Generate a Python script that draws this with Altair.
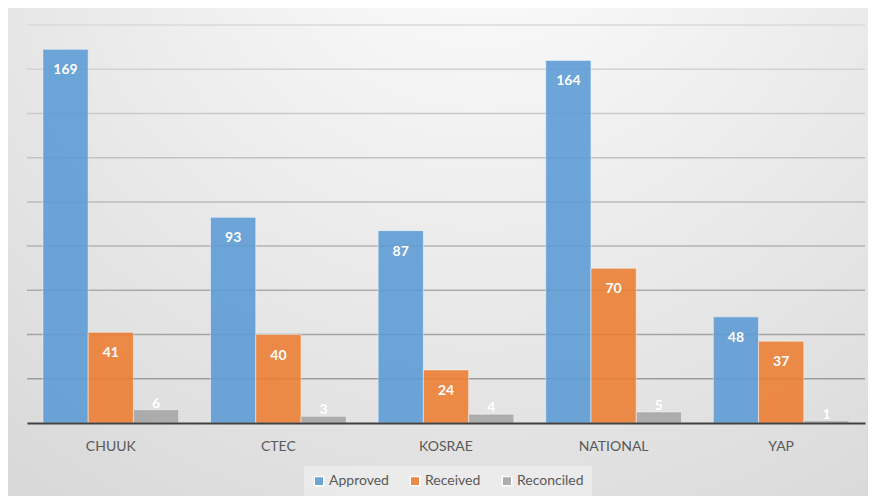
import altair as alt
import pandas as pd

categories = ["CHUUK", "CTEC", "KOSRAE", "NATIONAL", "YAP"]
series = ["Approved", "Received", "Reconciled"]
approved = [169, 93, 87, 164, 48]
received = [41, 40, 24, 70, 37]
reconciled = [6, 3, 4, 5, 1]
grid_ticks = [20, 40, 60, 80, 100, 120, 140, 160, 180]

rows = []
for name, vals in zip(series, [approved, received, reconciled]):
    for c, v in zip(categories, vals):
        rows.append({"category": c, "series": name, "value": v})
df = pd.DataFrame(rows)
grid_df = pd.DataFrame({"v": grid_ticks})
one = pd.DataFrame({"a": [0]})

W, H = 838, 398
FONT = "Lato"

yscale = alt.Scale(domain=[0, 180], nice=False)
xscale = alt.Scale(paddingInner=0.19, paddingOuter=0.095)

xenc = alt.X("category:N", sort=categories, scale=xscale,
             axis=alt.Axis(title=None, labelAngle=0, ticks=False, tickSize=0,
                           domainColor="#404040", domainWidth=2,
                           labelFont=FONT, labelFontSize=14, labelColor="#595959",
                           labelPadding=16, grid=False, zindex=1))
xoff = alt.XOffset("series:N", sort=series, scale=alt.Scale(paddingInner=0, paddingOuter=0))
yenc = alt.Y("value:Q", scale=yscale, axis=None)

bg = alt.Chart(one).mark_rect(
    fill=alt.Gradient(
        gradient="radial",
        stops=[alt.GradientStop(color="#ffffff", offset=0),
               alt.GradientStop(color="#d4d4d4", offset=1)],
        x1=0.55, y1=0.05, r1=0, x2=0.55, y2=0.05, r2=1.0,
    )
).encode(x=alt.value(-19), x2=alt.value(841), y=alt.value(-17), y2=alt.value(471))

border = alt.Chart(one).mark_rule(color="#cdcdcd", strokeWidth=1).encode(
    x=alt.value(-20), y=alt.value(-17), y2=alt.value(471))

grid = alt.Chart(grid_df).mark_rule(strokeWidth=1.5).encode(
    y=alt.Y("v:Q", scale=yscale, axis=None),
    x=alt.value(0), x2=alt.value(W),
    stroke=alt.Stroke("v:Q", scale=alt.Scale(domain=[20, 180], range=["#9c9c9c", "#dadada"]), legend=None),
)

bars = alt.Chart(df).mark_bar(opacity=0.88, stroke="white", strokeOpacity=0.5, strokeWidth=1).encode(
    x=xenc, xOffset=xoff, y=yenc,
    color=alt.Color("series:N", sort=series,
                    scale=alt.Scale(domain=series, range=["#5b9bd5", "#ed7d31", "#a5a5a5"]),
                    legend=alt.Legend(title=None, orient="none", legendX=277, legendY=441,
                                      direction="horizontal", symbolType="square", symbolSize=90,
                                      labelFont=FONT, labelFontSize=14, labelColor="#595959",
                                      columnPadding=18, labelOffset=3, padding=8,
                                      fillColor="rgba(255,255,255,0.35)")),
)

labels_in = alt.Chart(df).transform_filter("datum.value >= 10").mark_text(
    color="white", font=FONT, fontSize=14, fontWeight="bold", baseline="alphabetic", dy=25
).encode(x=xenc, xOffset=xoff, y=yenc, text="value:Q")

labels_out = alt.Chart(df).transform_filter("datum.value < 10").mark_text(
    color="white", font=FONT, fontSize=14, fontWeight="bold", baseline="alphabetic", dy=-2
).encode(x=xenc, xOffset=xoff, y=yenc, text="value:Q")

chart = alt.layer(bg, border, grid, bars, labels_in, labels_out).properties(
    width=W, height=H,
    autosize=alt.AutoSizeParams(type="none"),
    padding={"left": 19, "top": 17, "right": 3, "bottom": 73},
    background="white",
).configure_view(stroke=None)

chart.save("out.html", embed_options={"renderer": "svg", "actions": False})
